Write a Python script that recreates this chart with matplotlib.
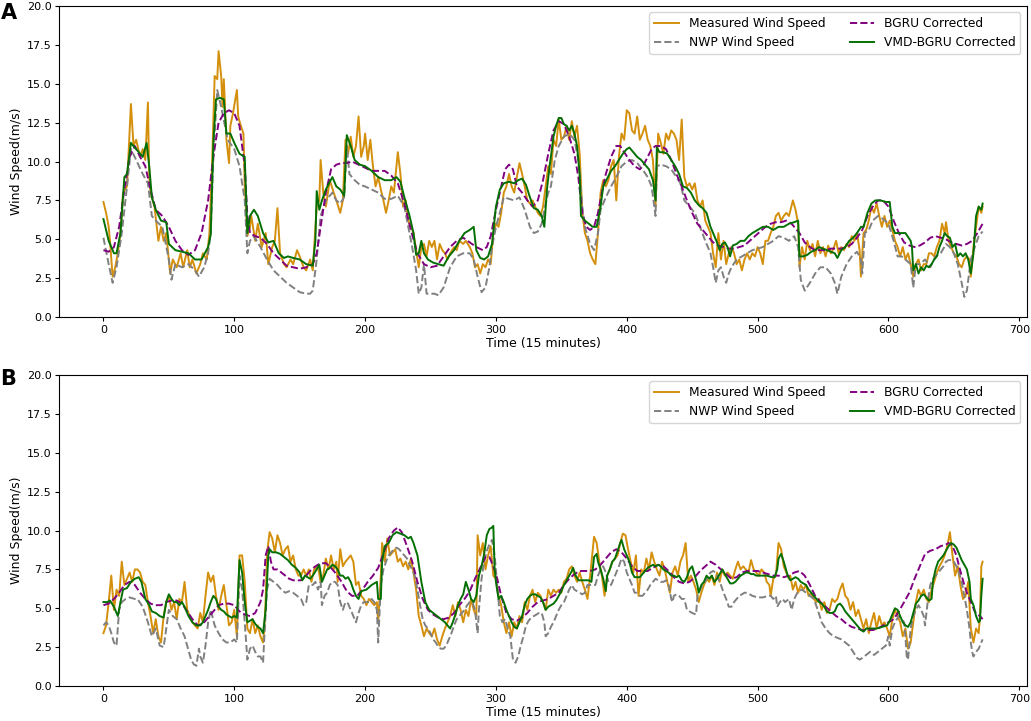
import matplotlib
matplotlib.use('Agg')
import matplotlib.pyplot as plt
import numpy as np

# readings (time step, wind speed m/s) taken off the figure, panel A
a_measured = [(0,7.4),(2,6.7),(4,5.8),(5,4.9),(7,2.6),(9,3.2),(11,4.1),(13,5.4),(15,8.0),(18,8.4),
    (21,13.7),(23,11.0),(25,11.4),(28,10.3),(30,10.8),(32,10.1),(34,13.8),(35,9.0),(36,8.0),(39,7.1),
    (42,4.9),(44,5.8),(46,4.9),(48,5.4),(51,2.8),(53,3.7),(56,3.2),(59,4.1),(61,3.2),(64,4.3),
    (66,3.2),(68,3.7),(71,2.8),(74,3.4),(76,4.1),(79,3.7),(81,5.4),(83,9.7),(85,15.5),(87,15.3),
    (88,17.1),(90,15.5),(91,13.5),(92,15.3),(94,11.4),(96,9.9),(97,12.3),(99,13.1),(102,14.6),(103,12.9),
    (105,12.3),(107,11.8),(108,8.4),(110,5.2),(112,5.8),(113,6.5),(116,4.9),(118,6.0),(121,4.5),(124,5.4),
    (126,3.4),(129,4.5),(131,4.9),(133,7.0),(135,4.1),(138,3.4),(140,3.2),(143,3.7),(145,3.4),(148,4.3),
    (150,3.9),(153,3.2),(155,3.0),(158,3.7),(160,3.0),(163,7.1),(165,7.5),(166,10.1),(168,8.0),(170,7.1),
    (173,8.8),(176,8.0),(178,7.5),(181,6.7),(183,7.5),(185,11.4),(187,10.5),(189,11.6),(191,10.3),(193,11.0),
    (195,12.9),(197,10.3),(199,11.0),(200,11.8),(202,10.1),(204,11.4),(206,9.7),(208,8.4),(210,9.0),(212,8.2),
    (214,7.5),(216,6.7),(218,7.5),(220,8.4),(222,8.0),(224,9.7),(225,10.6),(227,9.2),(229,7.1),(231,7.5),
    (233,6.2),(235,5.8),(237,5.4),(239,4.3),(241,3.2),(243,4.5),(245,4.7),(247,3.9),(249,4.9),(251,4.5),
    (253,4.9),(255,3.7),(257,4.7),(259,4.3),(261,4.1),(263,3.7),(265,4.1),(268,4.5),(270,4.3),(272,4.9),
    (275,4.7),(277,4.9),(280,4.5),(282,4.1),(284,3.2),(286,3.4),(288,2.8),(290,3.4),(292,3.2),(294,3.7),
    (296,3.4),(298,5.4),(300,6.0),(302,5.8),(304,6.7),(306,8.0),(308,8.4),(310,9.2),(312,8.4),(314,8.0),
    (316,9.0),(318,9.9),(320,9.2),(322,8.4),(324,7.5),(326,7.3),(328,7.5),(330,7.1),(332,6.7),(334,6.5),
    (336,7.1),(338,8.4),(340,9.7),(342,9.2),(344,11.4),(346,11.0),(348,12.7),(350,11.4),(352,11.6),(354,12.3),
    (356,11.4),(358,12.6),(360,11.6),(362,12.3),(364,10.5),(366,6.7),(368,5.4),(370,4.9),(372,4.1),(374,3.7),
    (376,3.4),(378,5.4),(380,8.0),(382,8.8),(384,8.4),(386,8.8),(388,9.7),(390,10.1),(392,7.5),(394,10.3),
    (396,11.8),(398,11.4),(400,13.3),(402,13.1),(404,12.0),(406,11.8),(408,12.9),(410,11.4),(412,11.8),(414,12.3),
    (416,11.4),(418,11.0),(420,10.1),(422,7.1),(424,11.8),(426,11.2),(428,10.5),(430,11.8),(432,11.4),(434,12.0),
    (436,11.8),(438,11.4),(440,10.1),(442,12.7),(444,9.0),(446,8.4),(448,8.6),(450,8.2),(452,8.6),(454,7.5),
    (456,7.1),(458,7.5),(460,6.2),(462,5.8),(464,5.4),(466,4.1),(468,3.2),(470,5.4),(472,3.7),(474,4.9),
    (476,3.4),(478,4.1),(480,4.5),(482,4.1),(484,3.4),(486,3.7),(488,3.0),(490,3.7),(492,4.1),(494,3.7),
    (496,4.1),(498,3.9),(500,4.5),(502,4.1),(504,3.4),(506,4.9),(508,4.9),(510,5.4),(512,5.8),(514,6.5),
    (516,6.7),(518,6.2),(520,6.5),(522,6.7),(524,6.5),(527,7.5),(529,6.9),(531,6.0),(532,3.2),(534,4.5),
    (536,3.7),(538,4.9),(540,4.3),(542,4.7),(544,3.9),(546,4.9),(548,4.1),(550,4.5),(552,3.9),(554,4.6),
    (556,4.1),(558,4.4),(560,4.9),(562,4.1),(564,4.5),(566,4.3),(568,4.7),(570,4.5),(572,5.2),(574,4.9),
    (576,5.4),(578,4.3),(579,2.6),(581,5.4),(583,5.6),(585,6.2),(587,7.1),(589,6.7),(591,7.3),(593,6.5),
    (595,5.8),(597,6.5),(599,5.8),(601,6.2),(603,5.6),(605,4.9),(607,4.5),(609,3.9),(611,4.5),(613,3.7),
    (615,4.1),(617,3.4),(619,2.6),(621,3.4),(623,3.7),(625,3.0),(627,3.4),(629,3.4),(631,4.1),(633,4.1),
    (635,3.9),(637,4.5),(639,4.9),(641,6.0),(643,5.4),(644,6.1),(646,4.9),(648,4.5),(650,4.1),(652,3.9),
    (654,3.4),(656,3.2),(658,3.7),(660,3.9),(662,3.7),(663,2.6),(665,4.5),(667,5.8),(669,7.1),(671,6.7),(672,7.1)]

a_nwp = [(0,5.1),(4,3.4),(7,2.2),(10,3.2),(14,5.4),(18,8.4),(21,10.8),(25,10.1),(30,9.2),(34,8.6),
    (37,6.5),(40,6.2),(45,5.8),(50,3.7),(52,2.4),(55,3.4),(60,3.2),(65,3.4),(70,3.0),(73,2.6),
    (77,3.2),(80,4.1),(82,5.4),(84,10.3),(87,14.6),(90,13.5),(95,11.4),(100,10.8),(104,9.7),(108,7.5),
    (110,4.1),(112,4.9),(115,5.2),(120,4.5),(125,3.7),(130,3.0),(135,2.6),(140,2.2),(145,1.9),(150,1.6),
    (155,1.5),(158,1.5),(160,1.7),(163,3.7),(166,6.5),(170,7.5),(175,8.0),(178,7.5),(181,7.3),(184,7.7),
    (186,11.0),(188,9.2),(192,8.8),(196,8.5),(200,8.4),(205,8.2),(210,8.0),(215,7.6),(220,7.6),(225,7.8),
    (230,7.1),(233,5.8),(236,4.5),(239,3.0),(241,1.5),(243,1.9),(245,3.4),(247,1.5),(250,1.5),(253,1.5),
    (256,1.4),(260,1.9),(265,3.2),(270,3.9),(275,4.1),(280,4.1),(283,3.7),(286,2.6),(289,1.6),(292,1.9),
    (295,3.2),(297,4.5),(300,5.8),(303,6.7),(306,7.7),(310,7.6),(314,7.5),(318,7.7),(322,6.9),(326,5.8),
    (329,5.4),(332,5.5),(335,6.0),(338,7.3),(340,8.0),(342,8.4),(345,10.1),(348,11.0),(352,11.6),(356,11.8),
    (360,11.4),(363,10.1),(366,7.1),(368,5.8),(372,4.7),(375,4.3),(378,5.4),(380,6.9),(384,7.7),(388,8.4),
    (392,9.0),(396,9.7),(400,10.0),(404,10.1),(408,9.9),(412,9.5),(416,9.0),(419,8.4),(421,7.1),(422,6.5),
    (423,9.7),(426,9.8),(430,9.7),(434,9.5),(438,9.0),(441,8.6),(444,7.5),(448,7.1),(452,6.7),(456,5.8),
    (460,4.9),(464,4.1),(466,3.2),(468,2.2),(470,3.0),(472,3.2),(474,2.6),(476,2.2),(478,2.8),(480,3.2),
    (484,3.7),(488,3.9),(492,4.1),(496,4.3),(500,4.4),(504,4.5),(508,4.7),(512,4.9),(516,5.2),(520,5.1),
    (524,4.9),(528,5.2),(531,4.5),(533,2.4),(536,1.7),(540,2.2),(544,2.8),(548,3.2),(552,3.2),(556,2.8),
    (559,2.2),(561,1.5),(564,2.6),(568,3.4),(572,3.9),(576,4.2),(579,3.7),(580,2.8),(582,5.4),(585,5.6),
    (588,6.2),(592,6.5),(596,6.3),(600,6.0),(604,4.9),(607,3.9),(610,3.9),(613,3.7),(617,3.4),(619,1.9),
    (621,3.4),(624,3.4),(628,3.7),(632,3.2),(636,3.9),(640,4.1),(644,4.7),(647,4.5),(650,4.1),(653,3.4),
    (656,2.2),(658,1.3),(660,1.7),(663,3.7),(666,4.5),(669,5.2),(672,5.5)]

a_bgru = [(0,4.3),(4,4.2),(8,4.5),(12,5.8),(16,8.2),(20,10.3),(24,11.0),(28,10.3),(32,9.7),(36,8.2),
    (40,6.9),(45,6.5),(50,5.8),(55,4.9),(60,4.3),(65,4.0),(70,4.3),(75,5.4),(80,7.5),(84,10.3),
    (88,12.5),(92,13.1),(96,13.3),(100,13.1),(104,12.3),(108,9.7),(110,6.5),(112,5.4),(116,5.2),(120,5.1),
    (125,4.7),(130,4.1),(135,3.7),(140,3.3),(145,3.2),(150,3.1),(155,3.2),(160,3.4),(163,4.1),(166,5.8),
    (170,8.0),(174,9.5),(178,9.8),(182,9.9),(186,9.9),(190,10.0),(195,9.8),(200,9.6),(205,9.4),(210,9.4),
    (215,9.4),(220,9.1),(225,8.6),(230,7.3),(235,5.6),(240,4.1),(245,3.4),(250,3.2),(255,3.3),(260,3.9),
    (265,4.5),(270,4.9),(275,5.1),(280,4.8),(285,4.5),(290,4.3),(293,4.5),(296,5.2),(300,6.9),(304,8.4),
    (307,9.5),(310,9.8),(313,9.5),(316,8.4),(320,8.0),(324,7.5),(328,7.1),(332,7.5),(336,8.8),(340,10.5),
    (344,12.0),(348,12.6),(352,12.4),(356,11.6),(360,10.5),(363,9.0),(366,6.7),(369,5.8),(372,5.6),(375,5.8),
    (378,6.7),(381,8.0),(384,9.2),(388,10.3),(392,11.0),(395,11.0),(398,10.6),(402,10.1),(406,9.7),(410,9.5),
    (413,9.8),(416,10.3),(419,10.8),(422,11.0),(426,11.0),(430,10.8),(434,10.1),(438,9.2),(442,8.4),(446,7.5),
    (450,6.7),(454,6.0),(458,5.6),(462,5.2),(466,4.8),(470,4.6),(474,4.5),(478,4.4),(482,4.4),(486,4.5),
    (490,4.6),(494,4.9),(498,5.2),(502,5.5),(506,5.8),(510,6.0),(514,6.1),(518,6.1),(522,6.2),(526,6.0),
    (528,5.8),(532,5.4),(536,4.8),(540,4.5),(544,4.3),(548,4.3),(552,4.3),(556,4.4),(560,4.4),(564,4.4),
    (568,4.5),(572,4.7),(576,5.1),(580,5.6),(584,6.5),(588,7.1),(592,7.5),(596,7.5),(600,7.1),(604,6.2),
    (608,5.4),(612,4.8),(616,4.6),(620,4.5),(624,4.6),(628,4.8),(632,5.1),(636,5.2),(640,5.1),(644,5.0),
    (648,4.8),(652,4.7),(656,4.6),(660,4.7),(664,4.9),(668,5.4),(672,6.0)]

a_vmd = [(0,6.3),(4,4.9),(8,4.1),(10,4.1),(13,5.4),(16,9.0),(18,9.2),(21,11.2),(25,10.8),(30,10.3),
    (33,11.2),(35,9.7),(37,7.7),(40,6.9),(44,6.2),(48,6.1),(50,4.7),(55,4.3),(60,4.2),(65,4.1),
    (70,3.7),(75,3.7),(80,4.5),(82,5.3),(84,11.2),(86,14.0),(89,14.1),(92,14.0),(94,11.8),(97,11.8),
    (100,11.2),(104,10.5),(108,10.3),(110,5.4),(112,6.5),(115,6.9),(118,6.5),(122,5.4),(126,4.8),(130,4.9),
    (134,4.1),(138,3.8),(141,3.9),(145,3.8),(150,3.7),(155,3.4),(160,3.3),(162,4.9),(163,8.1),(165,6.9),
    (167,7.5),(170,8.2),(173,8.7),(175,9.0),(178,8.4),(181,8.2),(184,7.8),(186,11.7),(189,11.0),(192,10.1),
    (196,9.8),(200,9.7),(205,9.4),(210,9.0),(215,8.8),(220,8.8),(224,9.0),(227,8.7),(230,7.7),(234,6.5),
    (237,5.4),(239,4.0),(241,4.1),(243,4.9),(245,4.1),(248,3.7),(252,3.5),(256,3.4),(260,3.3),(264,3.9),
    (268,4.3),(272,4.9),(276,5.4),(280,5.6),(283,5.8),(285,4.3),(288,3.8),(291,3.7),(294,3.9),(297,4.7),
    (300,7.1),(303,8.2),(306,8.6),(310,8.7),(314,8.6),(317,8.8),(320,8.9),(323,8.5),(326,7.7),(329,7.0),
    (332,6.9),(335,6.5),(337,5.8),(339,8.2),(341,9.7),(342,10.3),(344,11.6),(346,12.3),(348,12.8),(350,12.8),
    (352,12.4),(354,12.3),(356,12.0),(358,12.3),(360,11.8),(362,11.0),(364,9.2),(365,6.5),(368,6.2),(371,6.0),
    (374,5.8),(377,5.8),(380,7.1),(382,8.4),(385,8.9),(388,9.4),(391,9.7),(394,10.1),(397,10.5),(400,10.8),
    (402,10.9),(405,10.6),(408,10.3),(411,10.1),(414,9.8),(417,9.5),(420,8.8),(422,7.5),(423,10.9),(425,10.6),
    (428,10.6),(431,10.5),(434,10.1),(437,9.7),(440,9.2),(443,8.4),(446,8.3),(449,8.0),(452,7.5),(455,7.2),
    (458,7.0),(461,6.7),(464,5.8),(467,5.2),(469,4.8),(471,4.3),(473,4.7),(475,4.8),(477,4.5),(479,3.9),
    (481,4.6),(484,4.7),(487,4.9),(490,4.9),(493,5.2),(496,5.4),(500,5.6),(504,5.8),(508,5.8),(512,5.6),
    (516,5.8),(520,5.8),(524,6.0),(528,6.1),(531,6.2),(532,3.9),(535,3.9),(538,4.0),(541,4.2),(544,4.3),
    (547,4.5),(550,4.4),(553,4.3),(556,4.2),(559,4.1),(561,3.8),(564,4.3),(567,4.5),(570,4.9),(573,5.1),
    (576,5.4),(579,5.8),(581,5.8),(584,6.7),(587,7.3),(590,7.5),(594,7.5),(598,7.4),(601,7.4),(603,5.8),
    (605,5.4),(609,5.4),(613,5.4),(617,4.9),(618,4.5),(619,3.0),(621,3.4),(623,2.8),(625,3.2),(627,3.0),
    (629,3.3),(631,3.2),(633,3.4),(635,3.7),(637,3.9),(639,4.5),(641,4.9),(643,5.4),(645,5.2),(647,5.1),
    (649,4.5),(651,4.7),(653,3.9),(655,4.1),(657,3.9),(659,4.1),(661,3.7),(663,2.8),(665,4.1),(667,6.5),
    (669,7.1),(671,6.9),(672,7.3)]

# panel B
b_measured = [(0,3.4),(2,3.9),(4,5.4),(6,7.1),(8,4.9),(10,6.2),(12,5.8),(14,8.0),(16,6.5),(18,6.9),
    (20,7.3),(22,6.7),(24,7.5),(26,7.5),(28,7.3),(30,6.7),(32,6.5),(34,5.4),(36,4.5),(38,3.4),
    (40,4.3),(42,3.2),(44,2.8),(46,4.5),(48,5.4),(50,5.8),(52,4.9),(54,5.4),(56,4.3),(58,5.6),
    (60,5.4),(62,6.7),(64,4.9),(66,4.5),(68,4.1),(70,3.9),(72,3.7),(74,4.7),(76,4.1),(78,5.8),
    (80,7.3),(82,6.7),(84,7.1),(86,5.8),(88,4.9),(90,5.8),(92,6.5),(94,5.2),(96,3.9),(98,4.1),
    (100,4.9),(102,3.2),(104,8.4),(106,8.4),(108,6.7),(110,3.7),(112,3.4),(114,4.3),(116,3.4),(118,3.9),
    (120,3.2),(122,2.8),(123,3.7),(124,5.6),(125,8.4),(126,9.2),(127,9.9),(129,9.5),(131,8.6),(133,9.7),
    (135,9.2),(137,8.4),(139,8.8),(141,9.0),(143,8.0),(145,8.4),(147,7.5),(149,7.1),(151,7.1),(153,7.5),
    (155,7.1),(157,7.5),(159,6.7),(161,7.5),(164,7.7),(166,6.7),(168,7.1),(170,8.2),(172,7.5),(174,8.4),
    (176,7.5),(178,8.0),(179,6.7),(181,8.8),(183,7.7),(185,8.0),(187,8.2),(189,8.4),(191,8.0),(193,6.5),
    (195,6.7),(197,5.8),(199,5.6),(201,5.2),(203,5.6),(205,5.4),(207,5.2),(209,5.4),(210,4.1),(212,7.1),
    (213,9.2),(215,8.0),(217,9.5),(219,8.4),(221,8.6),(223,8.8),(225,8.0),(227,8.2),(229,7.7),(231,8.0),
    (233,7.5),(235,8.2),(237,7.3),(239,6.2),(241,4.5),(243,3.9),(245,3.2),(247,3.7),(249,3.4),(251,3.2),
    (253,3.7),(255,3.0),(257,2.6),(259,3.2),(261,3.7),(263,4.1),(265,4.5),(267,5.2),(269,4.5),(271,5.4),
    (273,4.9),(275,4.1),(277,4.9),(279,4.5),(281,5.6),(283,4.9),(285,4.5),(286,9.7),(288,8.4),(290,9.2),
    (292,7.5),(294,8.4),(296,9.0),(298,7.1),(300,6.9),(302,5.8),(304,5.2),(306,4.1),(308,3.4),(310,4.1),
    (312,3.2),(314,4.1),(316,3.7),(318,4.5),(320,4.1),(322,5.4),(324,4.9),(326,5.8),(328,6.2),(330,5.4),
    (332,6.0),(334,5.8),(336,5.4),(338,4.9),(340,6.2),(342,5.8),(344,6.2),(346,6.0),(348,6.2),(350,6.0),
    (352,6.7),(354,6.9),(356,7.5),(358,7.7),(360,7.1),(362,6.7),(364,7.3),(366,6.7),(368,6.2),(370,5.6),
    (372,7.1),(374,8.8),(375,9.6),(377,9.2),(379,8.0),(381,7.1),(383,5.8),(385,7.1),(387,7.5),(389,8.0),
    (391,8.2),(393,8.4),(395,9.2),(397,9.8),(399,9.7),(401,8.8),(403,8.0),(405,7.3),(407,8.4),(409,5.8),
    (411,7.5),(413,7.3),(415,8.2),(417,7.5),(419,8.6),(421,8.0),(423,7.5),(425,7.1),(427,8.0),(429,7.5),
    (431,6.7),(433,6.0),(435,7.3),(437,7.7),(439,7.1),(441,8.0),(443,8.4),(445,9.2),(447,6.7),(449,7.1),
    (451,6.7),(453,6.2),(455,5.4),(457,6.0),(459,6.5),(461,6.9),(463,6.7),(465,7.1),(467,6.5),(469,7.3),
    (471,6.7),(473,7.5),(475,7.1),(477,7.3),(479,7.1),(481,6.9),(483,7.5),(485,8.0),(487,7.5),(489,7.7),
    (491,7.5),(493,7.3),(495,8.1),(497,7.5),(499,7.3),(501,7.1),(503,7.5),(505,7.3),(507,6.7),(509,6.5),
    (510,5.8),(512,6.9),(514,7.1),(516,9.2),(518,8.8),(520,7.7),(522,7.3),(524,6.9),(525,7.1),(527,6.2),
    (529,6.7),(531,6.0),(533,6.5),(535,6.2),(537,6.5),(539,5.8),(541,6.0),(543,5.6),(545,5.4),(547,5.6),
    (549,4.9),(551,5.4),(553,4.7),(555,4.9),(557,5.6),(559,5.4),(561,5.6),(563,6.2),(565,6.6),(567,5.8),
    (569,5.6),(571,4.9),(573,5.4),(575,4.5),(577,4.9),(579,4.3),(581,3.7),(583,4.3),(585,3.4),(587,4.1),
    (589,4.7),(591,3.7),(593,4.5),(595,3.9),(597,4.1),(599,3.7),(601,3.2),(603,4.3),(605,4.9),(607,4.5),
    (609,4.1),(611,3.2),(613,3.7),(615,2.4),(617,2.8),(619,4.1),(621,5.4),(623,6.2),(625,5.8),(627,6.2),
    (629,5.6),(631,5.4),(633,6.2),(635,6.7),(637,7.3),(639,7.7),(641,8.0),(643,8.4),(645,9.0),(647,9.9),
    (649,8.4),(651,7.1),(653,7.7),(655,6.5),(657,5.6),(659,5.8),(661,6.7),(663,3.7),(665,2.8),(667,3.7),
    (669,3.4),(670,4.5),(671,7.7),(672,8.0)]

b_nwp = [(0,3.9),(2,4.1),(4,3.9),(6,3.4),(8,2.8),(10,2.6),(12,4.9),(14,5.4),(17,5.6),(20,5.7),
    (24,5.6),(26,5.6),(30,5.1),(34,4.1),(37,3.2),(40,3.7),(43,2.6),(46,2.5),(48,3.7),(50,4.9),
    (53,4.5),(56,4.3),(59,3.7),(62,3.2),(64,2.6),(67,1.7),(69,1.4),(71,1.3),(73,2.4),(74,1.9),
    (76,1.5),(78,2.6),(80,4.1),(82,4.9),(85,3.9),(88,3.4),(91,3.0),(94,2.8),(97,2.8),(100,3.0),
    (102,2.8),(104,7.1),(106,6.2),(108,4.1),(110,1.7),(112,2.4),(114,2.6),(116,2.2),(118,1.9),(120,1.9),
    (122,1.5),(123,3.2),(125,6.2),(127,6.9),(130,6.7),(133,6.5),(136,6.2),(139,6.0),(142,6.1),(145,6.0),
    (148,5.8),(151,5.6),(153,5.2),(155,5.4),(157,6.5),(160,6.5),(162,6.7),(164,6.2),(166,6.7),(167,5.2),
    (169,5.8),(171,6.0),(173,6.5),(175,6.7),(177,6.7),(179,6.5),(181,5.4),(183,4.9),(185,5.4),(187,5.3),
    (189,4.9),(191,4.5),(193,4.1),(195,4.7),(197,5.2),(199,5.4),(201,5.4),(203,5.4),(205,5.6),(207,5.4),
    (209,4.9),(210,2.8),(212,6.5),(214,7.5),(216,8.0),(218,8.4),(220,8.6),(222,8.8),(224,8.9),(226,8.8),
    (228,8.6),(230,8.4),(232,8.2),(234,7.8),(236,7.5),(238,7.1),(240,6.2),(242,5.2),(244,4.3),(246,3.9),
    (248,3.7),(250,3.4),(252,3.0),(254,2.8),(256,2.5),(258,2.4),(260,2.4),(262,2.6),(264,3.0),(266,3.4),
    (268,3.9),(270,4.3),(272,4.5),(274,4.7),(276,4.9),(278,5.2),(280,5.4),(282,5.4),(284,4.9),(286,3.4),
    (287,4.9),(289,6.9),(291,8.0),(293,8.7),(295,9.1),(297,9.4),(299,8.4),(301,6.5),(303,4.5),(305,4.1),
    (307,4.3),(309,3.7),(311,3.2),(313,1.7),(315,1.5),(317,1.9),(319,2.6),(321,3.2),(323,3.9),(325,4.2),
    (327,4.4),(329,4.5),(331,4.6),(333,4.7),(335,4.7),(337,4.1),(338,3.2),(340,3.4),(342,3.8),(344,4.1),
    (346,4.5),(348,4.9),(350,5.2),(352,5.4),(354,5.8),(356,6.2),(358,6.5),(360,6.2),(362,6.1),(364,6.0),
    (366,5.9),(368,6.0),(370,6.5),(374,6.5),(376,6.5),(378,7.1),(380,7.5),(382,7.7),(384,7.3),(386,6.7),
    (388,6.5),(390,6.9),(392,7.3),(394,7.7),(396,8.2),(398,8.0),(400,7.3),(402,6.9),(404,6.5),(406,6.0),
    (408,6.0),(410,5.8),(412,5.8),(414,6.0),(416,6.2),(418,6.5),(420,6.7),(422,6.9),(424,6.8),(426,6.7),
    (428,6.7),(430,6.8),(432,6.5),(434,5.6),(435,5.4),(436,5.8),(438,5.9),(440,5.8),(442,5.6),(444,5.6),
    (446,4.9),(448,4.8),(450,4.7),(453,4.6),(454,5.8),(456,6.2),(458,6.5),(460,6.7),(462,7.1),(464,7.3),
    (466,7.4),(468,7.3),(470,6.9),(472,6.5),(474,6.0),(476,5.6),(478,5.1),(480,5.1),(482,5.4),(484,5.6),
    (486,5.8),(488,5.9),(490,6.0),(492,6.0),(494,5.9),(496,5.8),(500,5.7),(504,5.7),(508,5.8),(510,5.8),
    (512,5.6),(514,5.8),(515,5.1),(517,5.4),(519,5.6),(521,5.4),(524,5.6),(526,4.9),(528,5.6),(531,6.1),
    (534,6.2),(537,6.0),(540,5.8),(543,5.6),(546,4.9),(549,4.1),(552,3.7),(555,3.4),(558,3.2),(561,3.1),
    (564,3.0),(567,2.8),(570,2.6),(573,2.2),(576,1.8),(578,1.7),(580,1.8),(583,2.0),(586,2.2),(589,2.0),
    (592,2.2),(595,2.4),(598,2.6),(600,3.2),(601,2.6),(603,3.7),(605,4.1),(608,4.5),(610,4.3),(612,4.1),
    (613,3.2),(614,1.9),(615,1.7),(617,3.7),(619,4.5),(621,4.9),(623,5.2),(625,4.9),(627,4.5),(628,3.9),
    (630,5.4),(632,6.5),(634,6.9),(636,7.1),(638,7.3),(640,7.5),(642,7.7),(644,8.0),(646,8.1),(648,8.1),
    (650,8.0),(652,7.7),(654,7.3),(656,6.7),(658,5.8),(660,4.9),(662,3.7),(663,2.8),(664,2.2),(665,1.9),
    (667,2.2),(669,2.4),(671,2.8),(672,3.0)]

b_bgru = [(0,5.2),(4,5.3),(8,5.6),(12,6.0),(16,6.5),(20,6.7),(24,6.5),(28,6.0),(32,5.6),(36,5.3),
    (40,5.2),(44,5.2),(48,5.4),(52,5.5),(56,5.5),(60,5.3),(64,4.8),(68,4.3),(72,3.9),(76,4.0),
    (80,4.4),(84,4.8),(88,5.2),(92,5.3),(96,5.3),(100,5.2),(104,4.8),(108,4.6),(112,4.5),(116,4.7),
    (120,5.4),(122,6.2),(124,8.4),(126,9.0),(128,8.0),(130,7.5),(133,7.5),(136,7.3),(139,7.1),(142,6.9),
    (145,6.8),(148,6.8),(151,6.8),(154,7.0),(158,7.4),(162,7.7),(166,7.9),(170,7.9),(174,7.6),(178,7.2),
    (182,6.7),(186,6.1),(190,5.8),(194,5.8),(198,6.2),(202,6.7),(206,7.1),(210,7.6),(214,8.5),(218,9.5),
    (222,10.0),(225,10.2),(228,9.9),(232,9.0),(236,8.0),(240,6.7),(244,5.6),(248,4.9),(252,4.6),(256,4.4),
    (260,4.3),(264,4.4),(268,4.7),(272,5.2),(276,5.6),(280,6.1),(284,6.9),(288,7.6),(292,8.3),(295,8.3),
    (298,7.7),(301,6.9),(304,5.8),(308,4.7),(312,4.3),(316,4.2),(320,4.4),(324,4.7),(328,5.1),(332,5.4),
    (336,5.5),(340,5.6),(344,5.8),(348,6.0),(352,6.5),(356,6.9),(360,7.2),(364,7.4),(368,7.4),(372,7.4),
    (376,7.5),(380,7.8),(384,8.2),(388,8.6),(392,8.8),(396,8.6),(400,8.2),(404,7.7),(408,7.4),(412,7.4),
    (416,7.4),(420,7.6),(424,7.8),(428,7.7),(432,7.4),(436,7.0),(440,6.7),(444,6.6),(448,6.7),(452,7.0),
    (456,7.4),(460,7.7),(464,8.0),(468,7.8),(472,7.5),(476,7.2),(480,6.9),(484,7.0),(488,7.3),(492,7.4),
    (496,7.4),(500,7.4),(504,7.3),(508,7.2),(512,7.1),(516,7.1),(520,7.0),(524,7.1),(528,7.3),(532,7.4),
    (536,7.1),(540,6.5),(544,5.8),(548,5.4),(552,5.1),(556,4.8),(560,4.5),(564,4.3),(568,4.0),(572,3.8),
    (576,3.7),(580,3.6),(584,3.6),(588,3.6),(592,3.7),(596,3.9),(600,4.1),(604,4.3),(608,4.8),(612,5.4),
    (616,6.0),(620,6.9),(624,7.7),(628,8.5),(632,8.7),(636,8.8),(640,9.0),(644,9.1),(646,9.2),(648,9.1),
    (650,8.8),(652,8.4),(654,7.7),(656,7.1),(658,6.5),(660,6.0),(662,5.6),(664,5.2),(666,4.8),(668,4.6),
    (670,4.5),(672,4.3)]

b_vmd = [(0,5.4),(3,5.4),(5,5.5),(8,5.1),(11,4.5),(13,5.4),(15,6.2),(18,6.3),(21,6.7),(24,6.9),
    (27,7.0),(29,6.7),(32,5.6),(35,5.2),(37,4.8),(40,4.7),(43,4.5),(46,4.4),(48,5.4),(50,5.9),
    (52,5.6),(54,5.4),(56,5.4),(58,5.2),(60,5.4),(62,5.1),(65,4.5),(68,4.1),(71,3.9),(74,3.9),
    (76,4.1),(78,4.5),(80,4.9),(82,5.4),(84,5.8),(86,5.6),(88,5.1),(90,4.9),(92,4.8),(94,4.6),
    (96,4.5),(98,4.4),(100,4.5),(102,4.4),(104,8.1),(106,7.3),(108,5.4),(110,4.1),(112,4.2),(114,4.3),
    (116,4.0),(118,3.8),(120,3.7),(122,3.4),(124,4.9),(125,6.7),(126,8.4),(127,8.8),(129,8.6),(132,8.6),
    (135,8.5),(138,8.3),(141,8.1),(144,7.8),(147,7.6),(150,7.3),(152,6.8),(154,7.1),(156,7.0),(158,6.9),
    (160,7.1),(163,7.5),(165,7.8),(167,6.7),(169,7.1),(171,7.5),(173,7.6),(175,7.8),(177,7.7),(179,7.5),
    (181,7.1),(183,7.1),(185,6.9),(187,7.0),(189,6.7),(191,6.2),(193,5.8),(195,5.6),(197,6.1),(201,6.2),
    (205,6.5),(209,6.7),(210,5.6),(212,5.6),(213,8.0),(215,9.0),(218,9.2),(221,9.7),(224,9.9),(227,9.8),
    (230,9.7),(233,9.5),(235,9.6),(237,9.2),(240,8.4),(243,6.7),(246,5.4),(249,4.9),(252,4.7),(255,4.5),
    (258,4.3),(261,4.1),(263,3.9),(265,3.7),(267,4.1),(269,4.6),(271,5.2),(273,5.6),(275,5.9),(277,6.7),
    (279,6.2),(281,5.6),(283,5.4),(285,5.8),(287,7.1),(289,7.7),(291,8.5),(293,9.7),(295,10.1),(297,10.2),
    (298,10.3),(299,7.5),(300,6.7),(302,5.6),(304,5.8),(306,5.4),(308,4.9),(310,4.5),(312,4.1),(314,3.8),
    (316,3.7),(318,4.1),(320,4.5),(322,5.2),(324,5.6),(326,5.8),(328,5.9),(330,5.9),(332,5.8),(334,5.7),
    (336,5.4),(338,4.9),(340,5.1),(342,5.2),(344,5.3),(346,5.5),(348,5.8),(350,6.1),(352,6.5),(354,6.8),
    (356,7.1),(358,7.4),(359,7.6),(361,7.1),(363,6.8),(366,6.8),(369,6.8),(371,6.8),(373,6.7),(375,8.3),
    (377,8.5),(378,8.0),(380,7.5),(382,6.9),(384,6.1),(385,7.1),(387,7.5),(389,8.0),(391,8.2),(393,8.7),
    (395,9.2),(396,9.4),(398,8.8),(400,8.4),(402,8.0),(404,7.3),(406,7.0),(408,7.0),(410,7.0),(412,7.2),
    (414,7.4),(416,7.6),(418,7.7),(420,7.8),(422,7.7),(424,7.8),(426,7.7),(428,7.5),(430,7.4),(432,7.3),
    (434,7.1),(436,7.1),(438,7.0),(440,7.1),(442,6.8),(444,6.7),(446,7.0),(448,7.5),(450,7.7),(452,7.1),
    (454,6.5),(455,6.0),(457,6.5),(459,6.7),(461,7.1),(463,6.9),(465,7.1),(467,6.7),(469,6.9),(471,7.2),
    (473,7.5),(475,7.2),(477,6.9),(479,6.6),(481,6.6),(483,6.7),(485,6.9),(487,7.1),(489,7.2),(491,7.3),
    (493,7.3),(495,7.2),(497,7.2),(499,7.1),(503,7.1),(507,7.1),(511,7.0),(513,7.0),(515,7.5),(516,8.2),
    (518,8.5),(520,8.0),(521,7.7),(523,7.1),(525,6.8),(527,6.9),(529,7.0),(531,6.9),(533,6.7),(535,6.6),
    (537,6.5),(539,6.2),(541,6.0),(543,5.8),(545,5.6),(547,5.4),(549,5.3),(551,5.1),(553,4.8),(555,4.7),
    (557,4.7),(559,4.8),(561,5.2),(563,5.3),(565,5.1),(567,4.8),(569,4.6),(571,4.4),(573,4.2),(575,4.0),
    (577,3.8),(579,3.6),(581,3.5),(583,3.7),(587,3.7),(591,3.7),(595,3.8),(599,3.9),(601,4.2),(603,4.6),
    (605,5.0),(607,4.9),(609,4.5),(611,4.1),(613,3.9),(615,3.8),(617,4.1),(619,4.7),(621,5.3),(623,5.5),
    (625,5.8),(627,5.9),(629,5.7),(631,5.5),(633,5.6),(634,6.7),(636,7.5),(638,8.0),(640,8.2),(642,8.4),
    (644,8.7),(646,9.0),(648,9.2),(650,9.1),(652,8.9),(654,8.5),(656,8.1),(658,7.8),(660,7.5),(662,6.7),
    (663,5.6),(665,5.2),(667,4.5),(669,4.1),(670,4.2),(671,5.8),(672,6.9)]

labels = ['Measured Wind Speed', 'NWP Wind Speed', 'BGRU Corrected', 'VMD-BGRU Corrected']
colors = ['#d4900c', 'gray', 'purple', '#047004']
styles = ['-', '--', '--', '-']

fig = plt.figure(figsize=(10.31, 7.21), dpi=100)
ax_a = fig.add_axes([0.0577, 0.5603, 0.938, 0.4313])
ax_b = fig.add_axes([0.0577, 0.0485, 0.938, 0.4313])

panels = [(ax_a, [a_measured, a_nwp, a_bgru, a_vmd]),
          (ax_b, [b_measured, b_nwp, b_bgru, b_vmd])]

for ax, series in panels:
    for s, lab, c, ls in zip(series, labels, colors, styles):
        t, v = zip(*s)
        ax.plot(t, v, color=c, linestyle=ls, linewidth=1.4, label=lab)
    ax.set_ylim(0, 20)
    ax.set_xlim(-33.6, 705.6)
    ax.set_yticks(np.arange(0, 20.1, 2.5))
    ax.tick_params(labelsize=8, length=3, pad=2.5)
    ax.set_xlabel('Time (15 minutes)', fontsize=9, labelpad=2)
    ax.set_ylabel('Wind Speed(m/s)', fontsize=9, labelpad=3)
    ax.legend(loc='upper right', ncol=2, fontsize=8.8)

fig.text(0.009, 0.982, 'A', fontsize=15, fontweight='bold', ha='center', va='center')
fig.text(0.008, 0.474, 'B', fontsize=15, fontweight='bold', ha='center', va='center')

plt.savefig('out.png', dpi=100)
plt.close()
